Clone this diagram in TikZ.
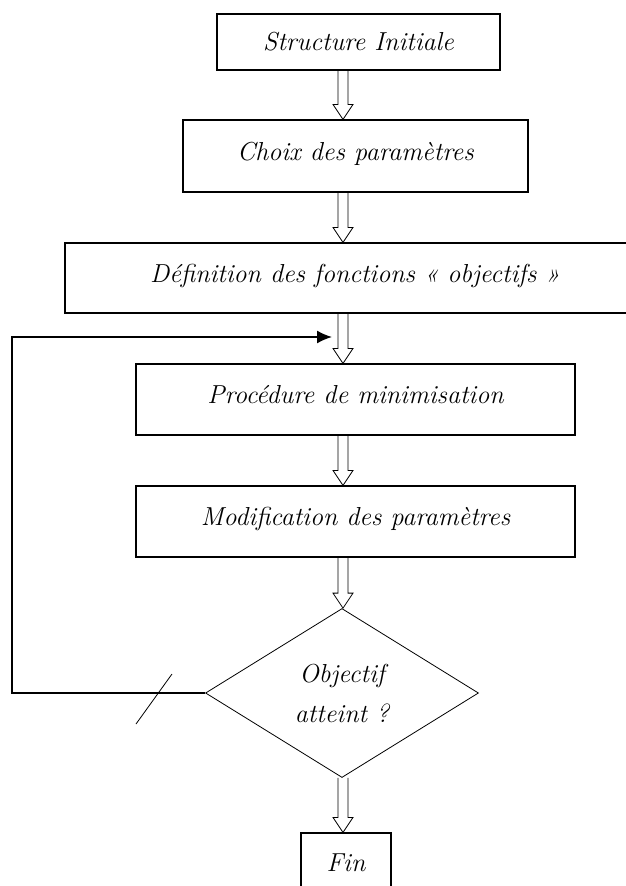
\documentclass[tikz,border=0pt]{standalone}
\usepackage{fontspec}
\usepackage{tikz}
\usetikzlibrary{shapes.geometric,arrows.meta,calc}

% flèche creuse entre deux boîtes, sur l'axe vertical
\newcommand{\fleche}[2]{%
  \draw[fleche] ($(axe |- #1.south)+(-5,0)$) -- ($(axe |- #2.north)+(-5,-15)$) -- ++(-5,0)
    -- (axe |- #2.north) -- ($(axe |- #2.north)+(10,-15)$) -- ++(-5,0) -- ($(axe |- #1.south)+(5,0)$);}

\begin{document}
\begin{tikzpicture}[x=1pt,y=-1pt,
		boite/.style={draw,line width=1.1pt,inner sep=0pt,font=\fontsize{26}{40}\selectfont\itshape},
		haut/.style={text height=18pt,text depth=10pt},
		fleche/.style={line width=0.8pt},
		retour/.style={line width=1.6pt,-{Latex[length=15pt,width=13pt]}}]
		\useasboundingbox (0,0) rectangle (625,886);

		% Koordinaten
		\coordinate (axe) at (343,0);
		\coordinate (coin) at (12,337);
		\coordinate (entree) at (332,337);

		% Boîtes
		\node[boite,minimum width=283pt,minimum height=56pt] (init) at (358.5,42) {Structure Initiale};
		\node[boite,haut,minimum width=345pt,minimum height=72pt] (choix) at (355.5,156) {Choix des paramètres};
		\node[boite,haut,minimum width=580pt,minimum height=70pt] (fonc) at (355,278) {Définition des fonctions « objectifs »};
		\node[boite,haut,minimum width=439pt,minimum height=71pt] (mini) at (355.5,399.5) {Procédure de minimisation};
		\node[boite,haut,minimum width=439pt,minimum height=71pt] (modif) at (355.5,521.5) {Modification des paramètres};
		\node[boite,diamond,line width=0.8pt,aspect=1.615,minimum width=273pt,minimum height=169pt,align=center] (test) at (342,693) {Objectif\\atteint ?};
		\node[boite,minimum width=90pt,minimum height=60pt] (fin) at (346,863) {Fin};

		% Flèches
		\fleche{init}{choix}
		\fleche{choix}{fonc}
		\fleche{fonc}{mini}
		\fleche{mini}{modif}
		\fleche{modif}{test}
		\fleche{test}{fin}

		% Retour
		\draw[retour] (test.west) -| (coin) -- (entree);
		\draw[line width=0.8pt] (136,724) -- (172,674);
	\end{tikzpicture}
\end{document}
